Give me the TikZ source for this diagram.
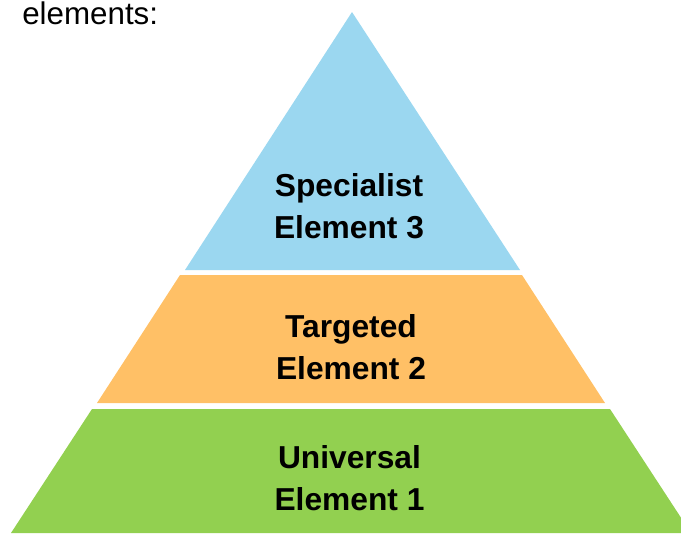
\documentclass[tikz,border=0pt]{standalone}
\usepackage{fontspec}
\setmainfont{Liberation Sans}
\definecolor{levelblue}{RGB}{155,215,240}
\definecolor{levelorange}{RGB}{255,192,102}
\definecolor{levelgreen}{RGB}{146,208,80}

\begin{document}
\begin{tikzpicture}[x=0.75pt, y=-0.75pt]
    \tikzstyle{level} = [draw=none]
    \tikzstyle{levellabel} = [align=center, inner sep=0pt, font=\fontsize{23.8}{31.5}\selectfont\bfseries]
    \tikzstyle{intro} = [anchor=base west, inner sep=0pt, font=\fontsize{23.5}{28}\selectfont]

    \useasboundingbox (0,0) rectangle (681,533);
    \clip (0,0) rectangle (681,533);

    % pyramid levels, top to bottom
    \fill [level, levelblue] (352,12) -- (520,270) -- (185,270) -- cycle;
    \fill [level, levelorange] (180,275) -- (522,275) -- (605,403) -- (97,403) -- cycle;
    \fill [level, levelgreen] (92,409) -- (610,409) -- (691,533) -- (11,533) -- cycle;

    \node [intro] (intro) at (22,24) {elements:};
    \node [levellabel] (specialist) at (349,206) {Specialist\\Element 3};
    \node [levellabel] (targeted) at (351,347) {Targeted\\Element 2};
    \node [levellabel] (universal) at (349.5,478.5) {Universal\\Element 1};
\end{tikzpicture}
\end{document}
